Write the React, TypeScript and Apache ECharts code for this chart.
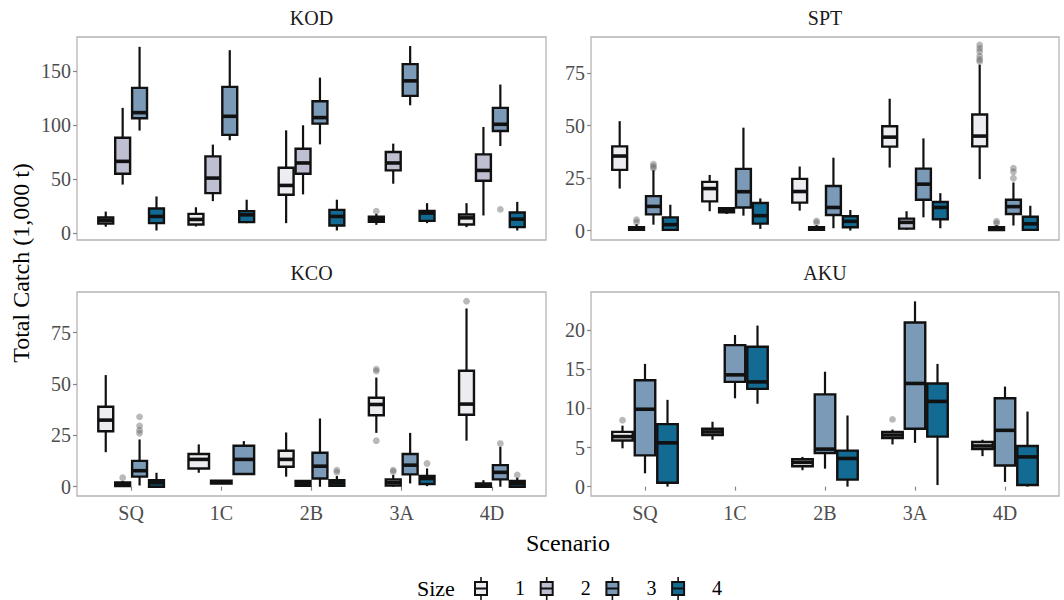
import React, { useEffect, useRef } from "react";
import * as echarts from "echarts";

const scenarios = ["SQ", "1C", "2B", "3A", "4D"];
const sizeLabels = ["1", "2", "3", "4"];
const sizeColors = ["#EDECF1", "#BEC0D2", "#7B9AB8", "#136B94"];
const panelNames = ["KOD", "SPT", "KCO", "AKU"];

// Box statistics per scenario: [min, q1, median, q3, max]; null = size absent
const kod1 = [[6, 9, 12, 14.5, 20], [6.2, 8, 12.7, 17.9, 24], [9.3, 35.6, 44.2, 60.6, 95.2], [7.7, 10.5, 12.7, 15.2, 17.9], [5.6, 8, 14.2, 17.3, 27.8]];
const kod2 = [[45, 55, 66.5, 88.4, 116], [29.7, 37.1, 51, 71.1, 82], [35.9, 55, 65, 78.2, 99.9], [45.8, 58.1, 65, 75.1, 82.9], [16.4, 48.5, 58.1, 73, 98.3]];
const kod3 = [[95, 106.4, 111.6, 134.5, 172.5], [86, 91, 108.2, 135.4, 169.4], [82.2, 101.4, 107, 122.1, 144], [118.4, 127.1, 141, 156.5, 173.2], [80.7, 94.6, 100.8, 116, 137.6]];
const kod4 = [[2.5, 9.3, 15.5, 22.9, 34], [9.3, 10.2, 17, 20.4, 31], [2.5, 7.1, 15.5, 21.6, 31], [9.3, 11.4, 18.6, 20.7, 27.8], [2.5, 5.6, 13, 19.2, 29]];

const spt1 = [[20, 28.9, 35.5, 40.1, 52.1], [9.2, 13.9, 20, 23.2, 26.5], [9.5, 13.3, 18.6, 24.6, 30.5], [30, 40, 44.5, 49.7, 62.8], [24.5, 40.1, 45, 55.3, 79]];
const spt2 = [[0, 0.4, 0.9, 1.6, 3], [7.9, 8.7, 9.8, 10.6, 11], [0, 0.3, 0.9, 1.6, 2.6], [0.3, 0.9, 3.9, 5.7, 9.2], [0, 0.2, 0.8, 1.6, 2.6]];
const spt3 = [[2.8, 7.7, 11.5, 16.4, 28.7], [7.1, 11, 18.5, 29.4, 49], [1.1, 7.4, 11, 21.2, 34.7], [6.3, 14.7, 22.1, 29.5, 43.9], [2.4, 7.9, 11.4, 14.7, 22.9]];
const spt4 = [[0, 0.3, 2.8, 6.3, 12.3], [0.8, 3.3, 7.1, 13.1, 15.3], [0, 1.6, 4.4, 6.8, 9.8], [1.1, 5.4, 11, 13.6, 17.8], [0, 0.3, 3.2, 6.6, 11.8]];

const kco1 = [[16.8, 27, 32.4, 38.9, 54.3], [6.8, 8.9, 13.3, 15.9, 20.6], [4.9, 9.7, 13.3, 17.5, 26.4], [26.2, 34.8, 40, 43.3, 53.1], [22.4, 35, 40.2, 56.4, 86.7]];
const kco2 = [[0, 0.3, 1.1, 2.1, 2.8], [1.3, 1.6, 2.3, 2.9, 3.2], [0, 0.5, 1.6, 2.8, 3.2], [0, 0.6, 2.1, 3.6, 5.7], [0, 0, 0.8, 1.6, 3.2]];
const kco3 = [[0.6, 4.9, 7.8, 12.6, 23], [5.7, 6.2, 13.3, 19.9, 22.2], [0, 4, 10, 16.5, 33.2], [1.6, 6, 10.5, 15.9, 26.2], [0, 3.6, 7, 10.5, 19.4]];
const kco4 = [[0, 0, 1.9, 3.2, 6.8], null, [0, 0.5, 1.9, 3.2, 5.2], [0.3, 1.3, 4, 5.2, 8.9], [0, 0, 1.6, 2.8, 4.4]];

const aku1 = [[4.9, 5.9, 6.4, 7, 7.8], [6, 6.6, 7, 7.4, 8.3], [2.1, 2.6, 3.1, 3.5, 3.8], [5.4, 6.2, 6.6, 7, 7.3], [3.9, 4.8, 5.2, 5.7, 6]];
const aku2 = [null, null, null, null, null];
const aku3 = [[1.7, 4, 9.9, 13.6, 15.7], [11.3, 13.4, 14.3, 18.1, 19.4], [2.3, 4.3, 4.8, 11.8, 14.7], [5.6, 7.4, 13.2, 21, 23.7], [0.6, 2.7, 7.2, 11.3, 12.8]];
const aku4 = [[0, 0.5, 5.6, 8, 11.1], [10.6, 12.5, 13.4, 17.9, 20.6], [0, 0.9, 3.6, 4.6, 9.1], [0.2, 6.4, 10.9, 13.2, 15.7], [0, 0.2, 3.8, 5.2, 9.6]];

// Outliers: [scenarioIndex, sizeIndex, value]
const kodOut = [[3, 0, 20.4], [4, 2, 22]];
const sptOut = [[0, 1, 4], [0, 1, 5.2], [0, 2, 29.7], [0, 2, 30.5], [0, 2, 31.6], [2, 1, 3.8], [2, 1, 4.6], [4, 0, 80.5], [4, 0, 81.5], [4, 0, 83], [4, 0, 85.3], [4, 0, 86.8], [4, 0, 88.4], [4, 1, 3.5], [4, 1, 4.4], [4, 2, 24.9], [4, 2, 28], [4, 2, 29.7]];
const kcoOut = [[0, 1, 4.4], [0, 2, 26], [0, 2, 27.5], [0, 2, 29.6], [0, 2, 34], [2, 3, 7], [2, 3, 8.1], [3, 0, 22.4], [3, 0, 56.2], [3, 0, 57.2], [3, 1, 7.3], [3, 1, 8.1], [3, 3, 11.3], [4, 0, 90.2], [4, 2, 21], [4, 3, 5.7]];
const akuOut = [[0, 0, 8.5], [3, 0, 8.6]];

const yTicks = [[0, 50, 100, 150], [0, 25, 50, 75], [0, 25, 50, 75], [0, 5, 10, 15, 20]];
const yRanges = [[-6.3, 181.6], [-4.5, 92.2], [-4.5, 94.7], [-1.2, 24.9]];

const panelStats = [[kod1, kod2, kod3, kod4], [spt1, spt2, spt3, spt4], [kco1, kco2, kco3, kco4], [aku1, aku2, aku3, aku4]];
const panelOut = [kodOut, sptOut, kcoOut, akuOut];

const gridRects = [
  { left: 77, top: 37, width: 469, height: 203 },
  { left: 591, top: 37, width: 468, height: 203 },
  { left: 77, top: 292, width: 469, height: 204 },
  { left: 591, top: 292, width: 468, height: 204 },
];

const FONT = "'Liberation Serif', 'Times New Roman', serif";
const DODGE = 0.75;

function slotInfo(stats: any[], s: number, k: number) {
  const present: number[] = [];
  for (let j = 0; j < 4; j++) if (stats[j][s]) present.push(j);
  return { slot: present.indexOf(k), n: present.length };
}

function renderBox(params: any, api: any) {
  const x = api.value(0);
  const slot = api.value(6);
  const n = api.value(7);
  const si = api.value(8);
  const unit = api.size([1, 0])[0];
  const bw = DODGE / n;
  const cx = x + (slot - (n - 1) / 2) * bw;
  const half = (bw * unit) / 2 - 1;
  const pMin = api.coord([cx, api.value(1)]);
  const pQ1 = api.coord([cx, api.value(2)]);
  const pMed = api.coord([cx, api.value(3)]);
  const pQ3 = api.coord([cx, api.value(4)]);
  const pMax = api.coord([cx, api.value(5)]);
  const px = pMed[0];
  const line = { stroke: "#111", lineWidth: 2.2 };
  return {
    type: "group",
    children: [
      { type: "line", shape: { x1: px, y1: pMax[1], x2: px, y2: pQ3[1] }, style: line },
      { type: "line", shape: { x1: px, y1: pQ1[1], x2: px, y2: pMin[1] }, style: line },
      {
        type: "rect",
        shape: { x: px - half, y: pQ3[1], width: half * 2, height: Math.max(pQ1[1] - pQ3[1], 0.5) },
        style: { fill: sizeColors[si], stroke: "#111", lineWidth: 2.4 },
      },
      { type: "line", shape: { x1: px - half, y1: pMed[1], x2: px + half, y2: pMed[1] }, style: { stroke: "#111", lineWidth: 3.6 } },
    ],
  };
}

function renderOutlier(params: any, api: any) {
  const x = api.value(0);
  const slot = api.value(2);
  const n = api.value(3);
  const bw = DODGE / n;
  const cx = x + (slot - (n - 1) / 2) * bw;
  const p = api.coord([cx, api.value(1)]);
  return {
    type: "circle",
    shape: { cx: p[0], cy: p[1], r: 3.4 },
    style: { fill: "rgba(100,100,100,0.45)", stroke: "none" },
  };
}

function buildOption() {
  const series: any[] = [];
  panelStats.forEach((stats, pi) => {
    for (let k = 0; k < 4; k++) {
      const data: number[][] = [];
      stats[k].forEach((b: any, s: number) => {
        if (!b) return;
        const { slot, n } = slotInfo(stats, s, k);
        data.push([s + 1, b[0], b[1], b[2], b[3], b[4], slot, n, k]);
      });
      if (!data.length) continue;
      series.push({
        type: "custom",
        name: "Size " + sizeLabels[k],
        xAxisIndex: pi,
        yAxisIndex: pi,
        renderItem: renderBox,
        encode: { x: 0, y: [1, 5] },
        data,
        z: 3,
      });
    }
    const outData = panelOut[pi].map((o) => {
      const { slot, n } = slotInfo(stats, o[0], o[1]);
      return [o[0] + 1, o[2], slot, n];
    });
    series.push({
      type: "custom",
      name: "outliers",
      xAxisIndex: pi,
      yAxisIndex: pi,
      renderItem: renderOutlier,
      encode: { x: 0, y: 1 },
      data: outData,
      z: 2,
    });
  });

  const grid = gridRects.map((g) => ({
    ...g,
    show: true,
    borderColor: "#b9b3b3",
    borderWidth: 1.3,
    backgroundColor: "transparent",
  }));

  const xAxis = gridRects.map((_, i) => {
    const bottom = i >= 2;
    return {
      type: "value",
      gridIndex: i,
      min: 0.4,
      max: 5.6,
      splitLine: { show: false },
      axisLine: { show: false },
      axisTick: {
        show: bottom,
        customValues: [1, 2, 3, 4, 5],
        length: 4,
        lineStyle: { color: "#8a8585", width: 1.2 },
      },
      axisLabel: {
        show: bottom,
        customValues: [1, 2, 3, 4, 5],
        formatter: (v: number) => scenarios[Math.round(v) - 1] || "",
        color: "#4d4d4d",
        fontFamily: FONT,
        fontSize: 20,
        margin: 7,
      },
    };
  });

  const yAxis = gridRects.map((_, i) => ({
    type: "value",
    gridIndex: i,
    min: yRanges[i][0],
    max: yRanges[i][1],
    splitLine: { show: false },
    axisLine: { show: false },
    axisTick: {
      show: true,
      customValues: yTicks[i],
      length: 4,
      lineStyle: { color: "#8a8585", width: 1.2 },
    },
    axisLabel: {
      customValues: yTicks[i],
      color: "#4d4d4d",
      fontFamily: FONT,
      fontSize: 20,
      margin: 6,
    },
  }));

  const graphic: any[] = [];
  gridRects.forEach((g, i) => {
    graphic.push({
      type: "text",
      x: g.left + g.width / 2,
      y: g.top - 19,
      style: {
        text: panelNames[i],
        fontFamily: FONT,
        fontSize: 20,
        fill: "#1a1a1a",
        textAlign: "center",
        textVerticalAlign: "middle",
      },
    });
  });
  graphic.push({
    type: "text",
    x: 568,
    y: 543,
    style: { text: "Scenario", fontFamily: FONT, fontSize: 24, fill: "#000", textAlign: "center", textVerticalAlign: "middle" },
  });
  graphic.push({
    type: "text",
    x: 21,
    y: 263,
    rotation: Math.PI / 2,
    style: { text: "Total Catch (1,000 t)", fontFamily: FONT, fontSize: 24, fill: "#000", textAlign: "center", textVerticalAlign: "middle" },
  });
  // Legend
  graphic.push({
    type: "text",
    x: 417,
    y: 588,
    style: { text: "Size", fontFamily: FONT, fontSize: 22, fill: "#000", textAlign: "left", textVerticalAlign: "middle" },
  });
  for (let k = 0; k < 4; k++) {
    const x0 = 475 + k * 65.7;
    graphic.push({
      type: "line",
      shape: { x1: x0 + 6, y1: 577, x2: x0 + 6, y2: 600 },
      style: { stroke: "#111", lineWidth: 1.6 },
    });
    graphic.push({
      type: "rect",
      shape: { x: x0, y: 582, width: 12, height: 13 },
      style: { fill: sizeColors[k], stroke: "#111", lineWidth: 2 },
    });
    graphic.push({
      type: "line",
      shape: { x1: x0, y1: 588.5, x2: x0 + 12, y2: 588.5 },
      style: { stroke: "#111", lineWidth: 2 },
    });
    graphic.push({
      type: "text",
      x: x0 + 40,
      y: 588,
      style: { text: sizeLabels[k], fontFamily: FONT, fontSize: 20, fill: "#000", textAlign: "left", textVerticalAlign: "middle" },
    });
  }

  return {
    animation: false,
    backgroundColor: "#ffffff",
    textStyle: { fontFamily: FONT },
    grid,
    xAxis,
    yAxis,
    series,
    graphic,
  };
}

export default function App() {
  const ref = useRef<HTMLDivElement>(null);
  useEffect(() => {
    if (!ref.current) return;
    const chart = echarts.init(ref.current, null, { renderer: "svg" });
    chart.setOption(buildOption() as any);
    return () => chart.dispose();
  }, []);
  return <div ref={ref} style={{ width: 1064, height: 600, position: "absolute", left: 0, top: 0 }} />;
}
